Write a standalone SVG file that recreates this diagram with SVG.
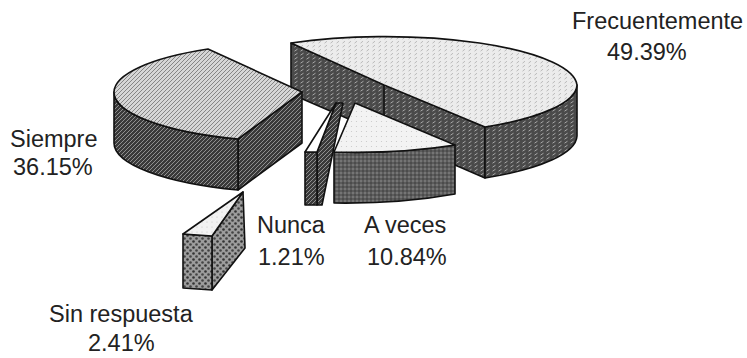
<svg xmlns="http://www.w3.org/2000/svg" width="747" height="358" viewBox="0 0 747 358">
<style>
.e{stroke:#111;stroke-width:1.6;stroke-linejoin:round}
.l{fill:none;stroke:#111;stroke-width:1.6}
text{font-family:"Liberation Sans",Arial,sans-serif;font-size:23.5px;fill:#222}
</style>
<defs>
<pattern id="frecTop" width="6" height="4" patternUnits="userSpaceOnUse"><rect width="6" height="4" fill="#ececec"/><path d="M0.5,3.2 L3,1.2" stroke="#b4b4b4" stroke-width="0.9"/></pattern>
<pattern id="frecSide" width="6" height="4" patternUnits="userSpaceOnUse"><rect width="6" height="4" fill="#4a4a4a"/><path d="M0.5,3.2 L3.5,1.2" stroke="#a6a6a6" stroke-width="1"/></pattern>
<pattern id="siemTop" width="4" height="4" patternUnits="userSpaceOnUse"><rect width="4" height="4" fill="#d6d6d6"/><path d="M-1,5 L5,-1" stroke="#7c7c7c" stroke-width="0.9"/></pattern>
<pattern id="siemSide" width="4" height="4" patternUnits="userSpaceOnUse"><rect width="4" height="4" fill="#3a3a3a"/><path d="M-1,5 L5,-1" stroke="#9a9a9a" stroke-width="0.9"/></pattern>
<pattern id="aveTop" width="5" height="5" patternUnits="userSpaceOnUse"><rect width="5" height="5" fill="#f3f3f3"/><circle cx="1.5" cy="1.5" r="0.6" fill="#c8c8c8"/></pattern>
<pattern id="aveSide" width="4" height="4" patternUnits="userSpaceOnUse"><rect width="4" height="4" fill="#5c5c5c"/><circle cx="1" cy="1" r="0.7" fill="#a0a0a0"/><circle cx="3" cy="3" r="0.7" fill="#2e2e2e"/></pattern>
<pattern id="sinTop" width="5" height="5" patternUnits="userSpaceOnUse"><rect width="5" height="5" fill="#f2f2f2"/><circle cx="2" cy="2" r="0.6" fill="#c4c4c4"/></pattern>
<pattern id="sinSide" width="6" height="6" patternUnits="userSpaceOnUse"><rect width="6" height="6" fill="#9c9c9c"/><circle cx="1.5" cy="1.5" r="1.3" fill="#333"/><circle cx="4.5" cy="4.5" r="1.3" fill="#444"/></pattern>
</defs>
<rect width="747" height="358" fill="#fff"/>

<g id="slice-frecuentemente">
<path class="e" fill="url(#frecSide)" d="M291,43 L485,127 L485,178 L291,94 Z"/>
<path class="e" fill="url(#frecSide)" d="M577,85 A192,50 0 0 1 485,127 L485,178 A192,50 0 0 0 577,136 Z"/>
<path class="e" fill="url(#frecTop)" d="M384,85 L291,43 A192,50 0 0 1 577,85 A192,50 0 0 1 485,127 Z"/>
<path class="l" d="M384,85 V136"/>
</g>

<g id="slice-siempre">
<path class="e" fill="url(#siemSide)" d="M302,92 L238,139 L238,190 L302,143 Z"/>
<path class="e" fill="url(#siemSide)" d="M114,92 A188,50 0 0 0 238,139 L238,190 A188,50 0 0 1 114,143 Z"/>
<path class="e" fill="url(#siemTop)" d="M302,92 L238,139 A188,50 0 0 1 114,92 A188,50 0 0 1 208,49 Z"/>
</g>

<g id="slice-nunca">
<path class="e" fill="url(#siemSide)" d="M317,152 L336,103 L343,103 L322,205 L317,205 Z"/>
<path class="e" fill="url(#siemSide)" d="M305,152 L317,152 L317,205 L305,205 Z"/>
<path class="e" fill="#ffffff" d="M336,103 L305,152 L317,152 Z"/>
</g>

<g id="slice-a-veces">
<path class="e" fill="url(#aveSide)" d="M334,152 L334,203 A192,50 0 0 0 455,194 L455,145 A192,50 0 0 1 334,152 Z"/>
<path class="e" fill="url(#aveTop)" d="M355,103 L455,145 A192,50 0 0 1 334,152 Z"/>
</g>

<g id="slice-sin-respuesta">
<path class="e" fill="url(#sinSide)" d="M212,236 L243,192 L245,248 L212,290 Z"/>
<path class="e" fill="url(#sinSide)" d="M183,234 L212,236 L212,290 L183,288 Z"/>
<path class="e" fill="url(#sinTop)" d="M243,192 L212,236 L183,234 Z"/>
</g>

<g id="connectors"></g>

<g id="label-frecuentemente">
<text x="572" y="29">Frecuentemente</text>
<text x="607" y="60">49.39%</text>
</g>
<g id="label-siempre">
<text x="10" y="147">Siempre</text>
<text x="13" y="175">36.15%</text>
</g>
<g id="label-nunca">
<text x="257" y="233">Nunca</text>
<text x="258" y="265">1.21%</text>
</g>
<g id="label-a-veces">
<text x="364" y="233">A veces</text>
<text x="367" y="265">10.84%</text>
</g>
<g id="label-sin-respuesta">
<text x="49" y="322">Sin respuesta</text>
<text x="88" y="351">2.41%</text>
</g>
</svg>
